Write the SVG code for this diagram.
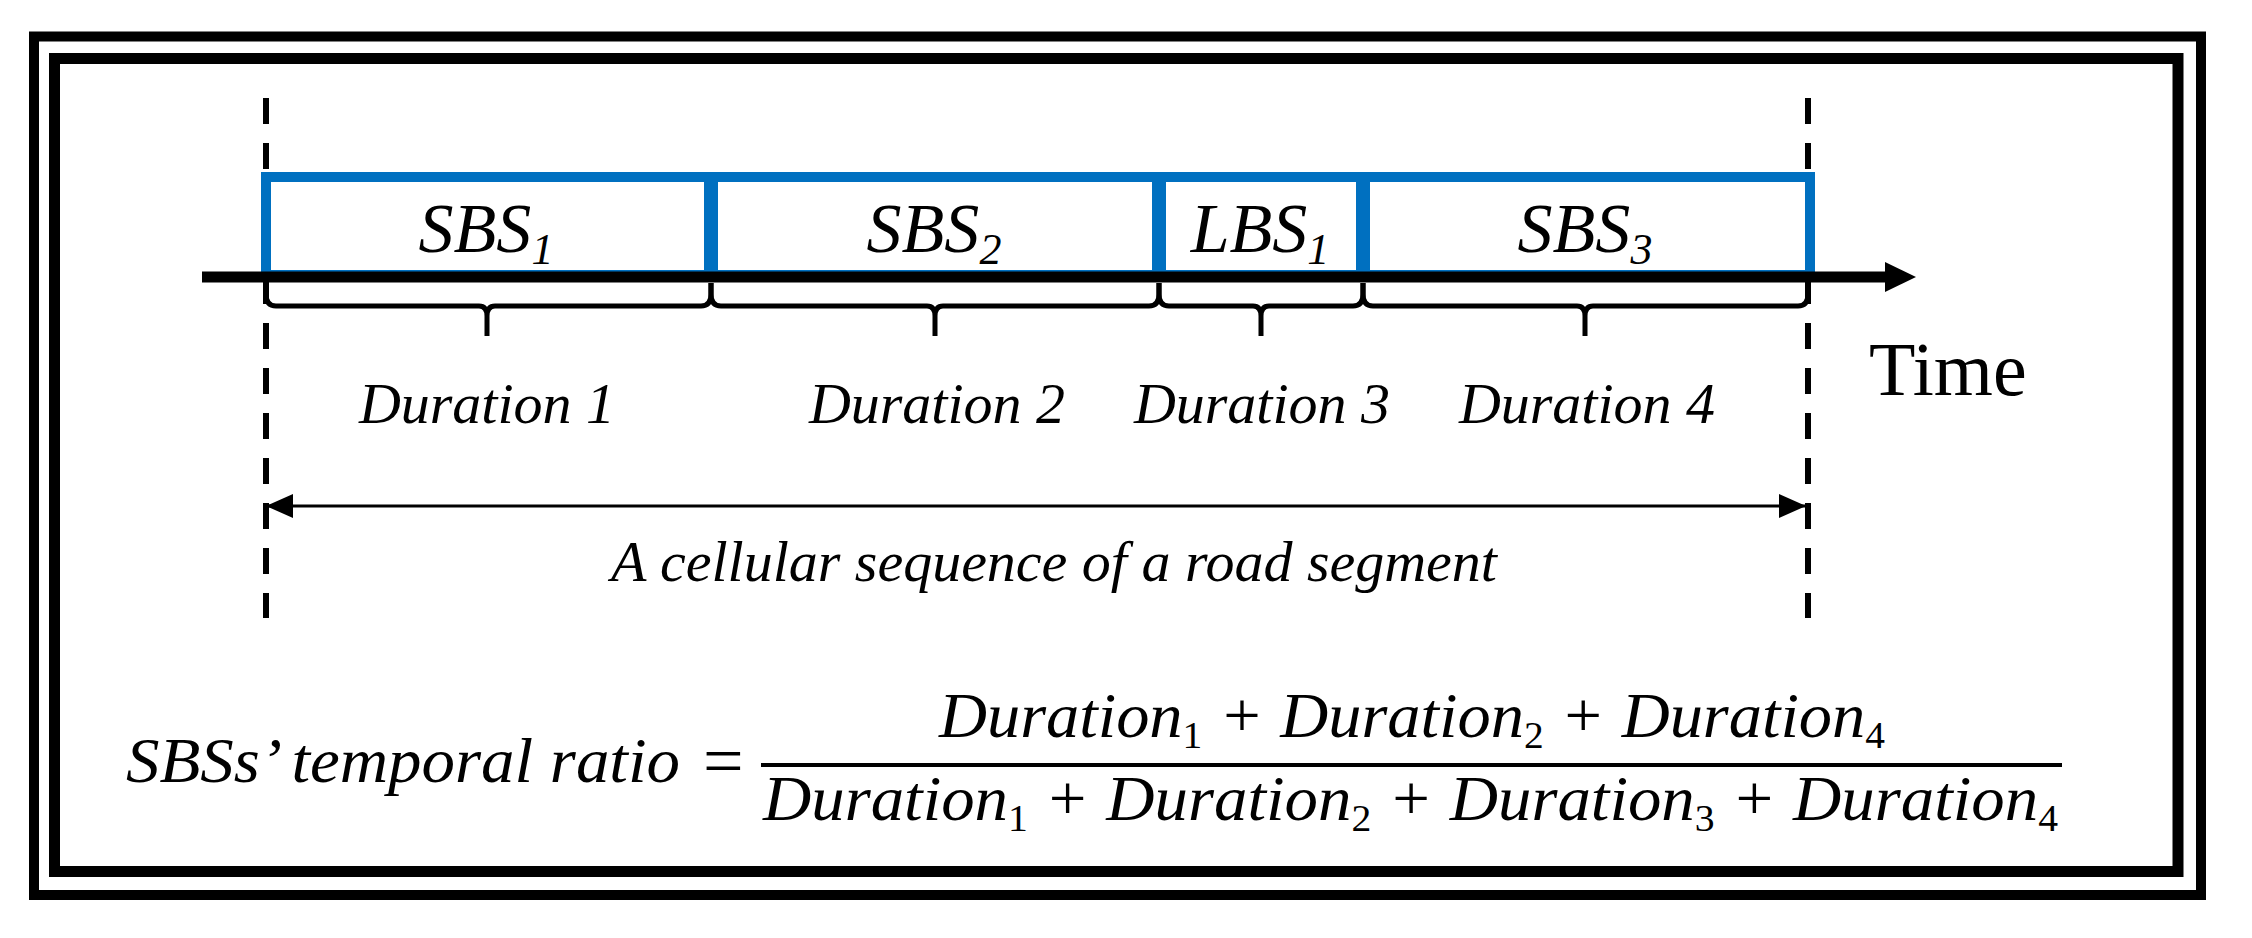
<svg xmlns="http://www.w3.org/2000/svg" width="2252" height="938" viewBox="0 0 2252 938">
<defs>
<style>
.frame{fill:none;stroke:#000;}
.box{fill:#fff;stroke:#0070C0;stroke-width:10;}
.lbl{font-family:"Liberation Serif",serif;font-style:italic;font-size:70px;fill:#000;text-anchor:middle;}
.sub{font-size:44px;}
.dur{font-family:"Liberation Serif",serif;font-style:italic;font-size:58px;fill:#000;text-anchor:middle;}
.brace{fill:none;stroke:#000;stroke-width:5;stroke-linejoin:round;}
.dash{stroke:#000;stroke-width:6;stroke-dasharray:26 19;fill:none;}
.math{font-family:"Liberation Serif",serif;font-style:italic;font-size:64px;fill:#000;}
.msub{font-size:38px;font-style:normal;}
</style>
<marker id="ah" viewBox="0 0 27 24" refX="27" refY="12" markerWidth="27" markerHeight="24" markerUnits="userSpaceOnUse" orient="auto-start-reverse">
<path d="M0,0 L27,12 L0,24 Z" fill="#000"/>
</marker>
</defs>
<rect width="2252" height="938" fill="#fff"/>
<g id="frame">
<rect class="frame" x="34" y="36.5" width="2167" height="858.5" stroke-width="10"/>
<rect class="frame" x="54.5" y="58.5" width="2123.5" height="813" stroke-width="11"/>
</g>
<g id="connectors">
<line class="dash" x1="266" y1="98" x2="266" y2="618"/>
<line class="dash" x1="1808" y1="98" x2="1808" y2="618"/>
</g>
<g id="node-sbs1">
<rect class="box" x="266" y="177" width="443" height="98"/>
<text class="lbl" x="486" y="252">SBS<tspan class="sub" dy="12">1</tspan></text>
</g>
<g id="node-sbs2">
<rect class="box" x="713" y="177" width="444" height="98"/>
<text class="lbl" x="934" y="252">SBS<tspan class="sub" dy="12">2</tspan></text>
</g>
<g id="node-lbs1">
<rect class="box" x="1161" y="177" width="200" height="98"/>
<text class="lbl" x="1260" y="252">LBS<tspan class="sub" dy="12">1</tspan></text>
</g>
<g id="node-sbs3">
<rect class="box" x="1365" y="177" width="445" height="98"/>
<text class="lbl" x="1585" y="252">SBS<tspan class="sub" dy="12">3</tspan></text>
</g>
<g id="connectors-main">
<line x1="202" y1="277" x2="1888" y2="277" stroke="#000" stroke-width="11"/>
<polygon points="1885,262 1916,277 1885,292" fill="#000"/>
<path class="brace" d="M266,283 L266,294 Q266,306 276,306 L479,306 Q487,306 487,316 L487,336 M487,316 Q487,306 495,306 L701,306 Q711,306 711,294 L711,283"/>
<path class="brace" d="M711,283 L711,294 Q711,306 721,306 L927,306 Q935,306 935,316 L935,336 M935,316 Q935,306 943,306 L1149,306 Q1159,306 1159,294 L1159,283"/>
<path class="brace" d="M1159,283 L1159,294 Q1159,306 1169,306 L1253,306 Q1261,306 1261,316 L1261,336 M1261,316 Q1261,306 1269,306 L1353,306 Q1363,306 1363,294 L1363,283"/>
<path class="brace" d="M1363,283 L1363,294 Q1363,306 1373,306 L1577,306 Q1585,306 1585,316 L1585,336 M1585,316 Q1585,306 1593,306 L1798,306 Q1808,306 1808,294 L1808,283"/>
<line x1="266" y1="506" x2="1806" y2="506" stroke="#000" stroke-width="3" marker-start="url(#ah)" marker-end="url(#ah)"/>
</g>
<g id="labels">
<text class="dur" x="487" y="423">Duration 1</text>
<text class="dur" x="937" y="423">Duration 2</text>
<text class="dur" x="1262" y="423">Duration 3</text>
<text class="dur" x="1587" y="423">Duration 4</text>
<text class="dur" x="1054" y="581">A cellular sequence of a road segment</text>
<text x="1869" y="395" font-family="'Liberation Serif',serif" font-size="76" fill="#000">Time</text>
</g>
<g id="formula">
<text class="math" x="126" y="782" textLength="554" lengthAdjust="spacingAndGlyphs">SBSs’ temporal ratio</text>
<text x="703" y="785" font-family="'Liberation Serif',serif" font-size="72" fill="#000">=</text>
<line x1="761" y1="765" x2="2062" y2="765" stroke="#000" stroke-width="4"/>
<text class="math" x="939" y="737" textLength="946" lengthAdjust="spacingAndGlyphs">Duration<tspan class="msub" dy="11">1</tspan><tspan dy="-11"> + Duration</tspan><tspan class="msub" dy="11">2</tspan><tspan dy="-11"> + Duration</tspan><tspan class="msub" dy="11">4</tspan></text>
<text class="math" x="763" y="820" textLength="1295" lengthAdjust="spacingAndGlyphs">Duration<tspan class="msub" dy="11">1</tspan><tspan dy="-11"> + Duration</tspan><tspan class="msub" dy="11">2</tspan><tspan dy="-11"> + Duration</tspan><tspan class="msub" dy="11">3</tspan><tspan dy="-11"> + Duration</tspan><tspan class="msub" dy="11">4</tspan></text>
</g>
</svg>
